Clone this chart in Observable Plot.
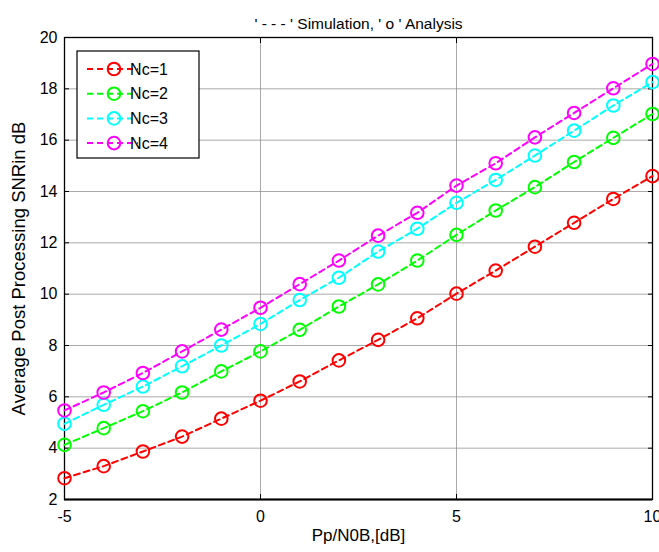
<!DOCTYPE html>
<html>
<head>
<meta charset="utf-8">
<script src="https://cdn.jsdelivr.net/npm/d3@7"></script>
<script src="https://cdn.jsdelivr.net/npm/@observablehq/plot@0.6"></script>
<style>
  html, body { margin: 0; padding: 0; background: #fff; }
  #chart { width: 659px; height: 552px; }
  svg { font-family: "Liberation Sans", Arial, sans-serif; }
</style>
</head>
<body>
<div id="chart"></div>
<script>
const ppN0B = [-5, -4, -3, -2, -1, 0, 1, 2, 3, 4, 5, 6, 7, 8, 9, 10];
const nc1 = [2.83, 3.30, 3.87, 4.45, 5.15, 5.85, 6.60, 7.42, 8.22, 9.06, 10.02, 10.92, 11.85, 12.78, 13.71, 14.60];
const nc2 = [4.13, 4.78, 5.44, 6.17, 6.99, 7.77, 8.61, 9.52, 10.38, 11.31, 12.31, 13.26, 14.17, 15.15, 16.09, 17.02];
const nc3 = [4.95, 5.69, 6.40, 7.19, 8.00, 8.84, 9.77, 10.64, 11.66, 12.55, 13.56, 14.45, 15.40, 16.37, 17.35, 18.26];
const nc4 = [5.47, 6.17, 6.93, 7.77, 8.62, 9.47, 10.39, 11.31, 12.28, 13.17, 14.23, 15.10, 16.11, 17.06, 18.02, 18.97];
const seriesNames = ["Nc=1", "Nc=2", "Nc=3", "Nc=4"];
const seriesColors = ["#ff0000", "#00ff00", "#00ffff", "#ff00ff"];
const xTicks = [-5, 0, 5, 10];
const yTicks = [2, 4, 6, 8, 10, 12, 14, 16, 18, 20];
const titleText = "' - - - ' Simulation, ' o ' Analysis";
const xLabel = "Pp/N0B,[dB]";
const yLabel = "Average Post Processing SNRin dB";

const allSeries = [nc1, nc2, nc3, nc4];
const data = [];
allSeries.forEach((vals, i) => vals.forEach((v, j) => data.push({x: ppN0B[j], y: v, s: seriesNames[i]})));

const font = "Liberation Sans, Arial, sans-serif";

const chart = Plot.plot({
  width: 659,
  height: 552,
  marginLeft: 64,
  marginRight: 7,
  marginTop: 37,
  marginBottom: 53,
  style: {fontFamily: font, fontSize: "16px", background: "#fff", overflow: "visible"},
  x: {domain: [-5, 10], ticks: xTicks},
  y: {domain: [2, 20], ticks: yTicks},
  color: {domain: seriesNames, range: seriesColors},
  marks: [
    Plot.gridX(xTicks.slice(1, -1), {stroke: "#8c8c8c", strokeOpacity: 0.75, strokeWidth: 1}),
    Plot.gridY(yTicks.slice(1, -1), {stroke: "#8c8c8c", strokeOpacity: 0.75, strokeWidth: 1}),
    Plot.axisX(xTicks, {anchor: "bottom", tickSize: -5, tickPadding: 16, fontSize: 16, label: null, tickFormat: d => String(d)}),
    Plot.axisX(xTicks, {anchor: "top", tickSize: -5, tickFormat: () => "", label: null}),
    Plot.axisY(yTicks, {anchor: "left", tickSize: -5, tickPadding: 12, fontSize: 16, label: null, tickFormat: d => String(d)}),
    Plot.axisY(yTicks, {anchor: "right", tickSize: -5, tickFormat: () => "", label: null}),
    Plot.frame({stroke: "#000", strokeWidth: 1.3}),
    Plot.ruleY([2], {stroke: "#000", strokeWidth: 2.2}),
    Plot.line(data, {x: "x", y: "y", z: "s", stroke: "s", strokeWidth: 2, strokeDasharray: "6,4"}),
    Plot.dot(data, {x: "x", y: "y", stroke: "s", r: 6.3, strokeWidth: 2, fill: "none"}),
    Plot.text([titleText], {frameAnchor: "top", dy: -20, fontSize: 15.5, fill: "#000"}),
    Plot.text([xLabel], {frameAnchor: "bottom", dy: 41, fontSize: 17, fill: "#000"}),
    Plot.text([yLabel], {frameAnchor: "left", textAnchor: "middle", dx: -45, rotate: -90, fontSize: 18.5, fill: "#000"})
  ]
});
document.getElementById("chart").appendChild(chart);

// Legend box (MATLAB style) inside plot area
const svg = d3.select(chart);
const lg = svg.append("g").attr("font-family", font).attr("font-size", 16);
const bx = 77, by = 51, bw = 122, bh = 107;
lg.append("rect").attr("x", bx).attr("y", by).attr("width", bw).attr("height", bh)
  .attr("fill", "#fff").attr("stroke", "#000").attr("stroke-width", 1.2);
seriesNames.forEach((name, i) => {
  const cy = by + 18 + i * 24.7;
  const g = lg.append("g");
  g.append("line").attr("x1", 87).attr("x2", 138).attr("y1", cy).attr("y2", cy)
    .attr("stroke", seriesColors[i]).attr("stroke-width", 2).attr("stroke-dasharray", "6,4");
  g.append("circle").attr("cx", 114).attr("cy", cy).attr("r", 6.3)
    .attr("fill", "none").attr("stroke", seriesColors[i]).attr("stroke-width", 2);
  g.append("text").attr("x", 149).attr("y", cy).attr("dy", "0.35em").attr("fill", "#000").text(name);
});
</script>
</body>
</html>
